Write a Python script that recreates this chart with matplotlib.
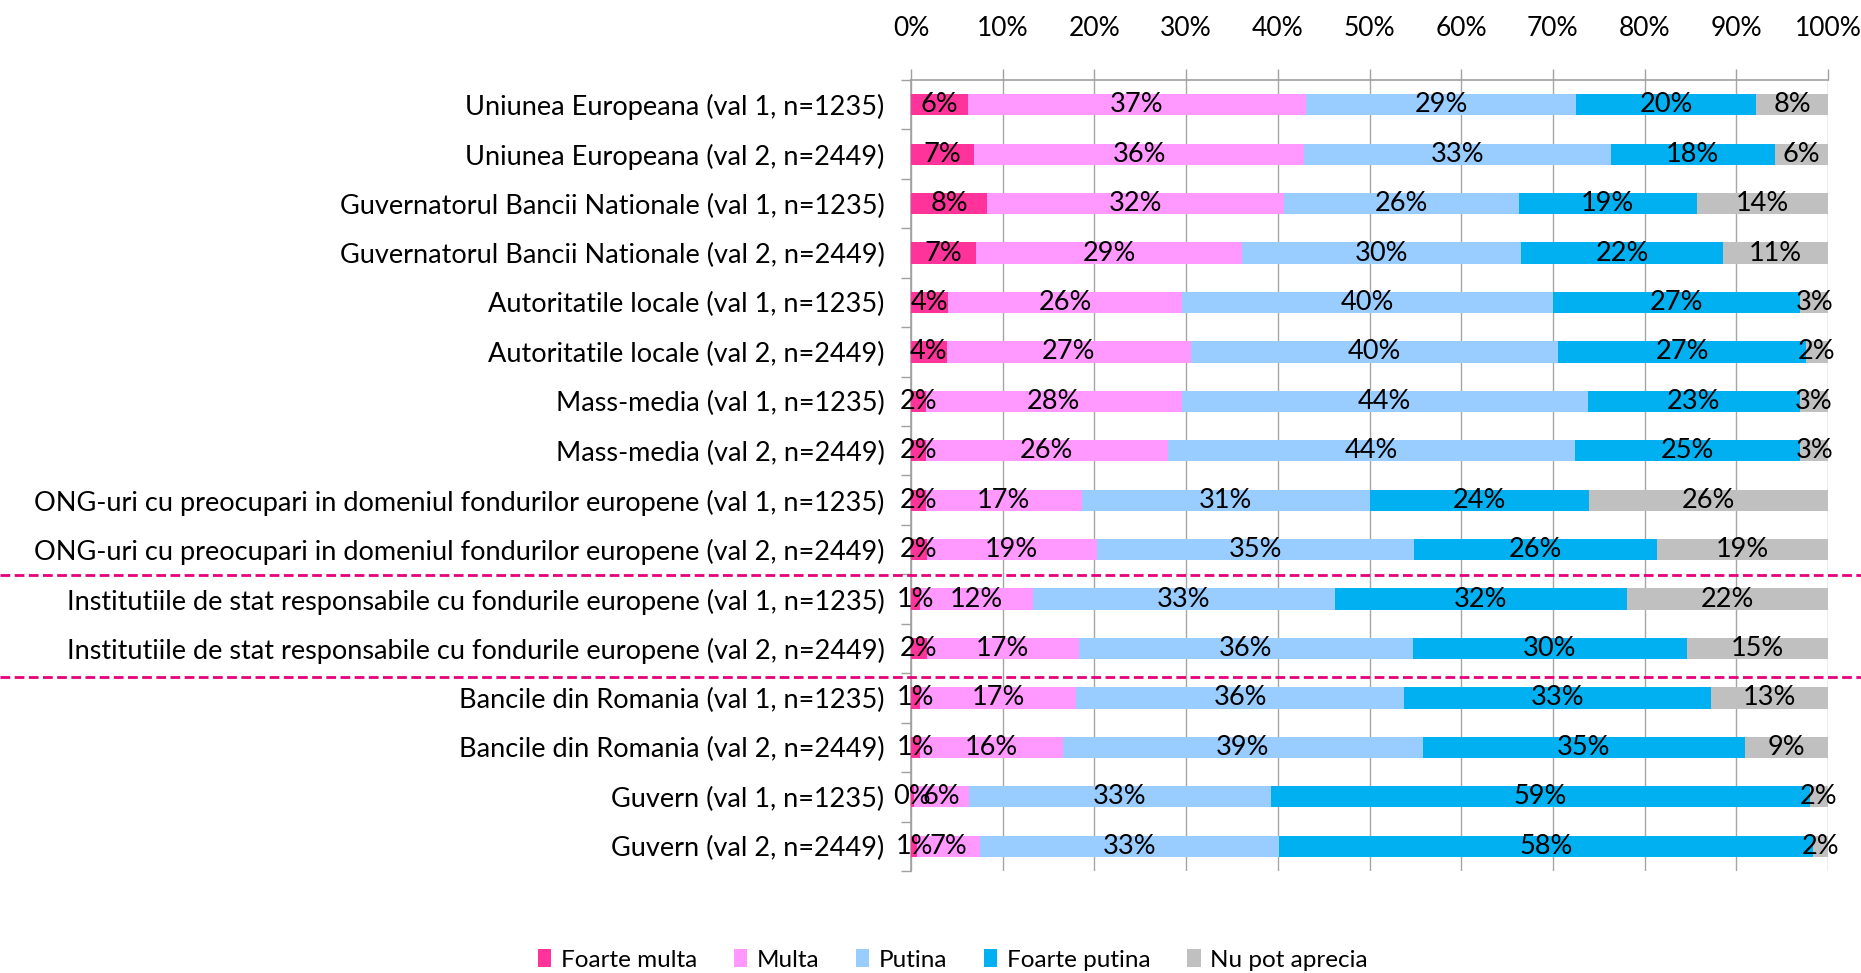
import matplotlib
matplotlib.use("Agg")
import matplotlib.pyplot as plt
from matplotlib.transforms import blended_transform_factory
import numpy as np

plt.rcParams['font.family'] = ['Lato', 'DejaVu Sans']

categories = [
    "Uniunea Europeana (val 1, n=1235)",
    "Uniunea Europeana (val 2, n=2449)",
    "Guvernatorul Bancii Nationale (val 1, n=1235)",
    "Guvernatorul Bancii Nationale (val 2, n=2449)",
    "Autoritatile locale (val 1, n=1235)",
    "Autoritatile locale (val 2, n=2449)",
    "Mass-media (val 1, n=1235)",
    "Mass-media (val 2, n=2449)",
    "ONG-uri cu preocupari in domeniul fondurilor europene (val 1, n=1235)",
    "ONG-uri cu preocupari in domeniul fondurilor europene (val 2, n=2449)",
    "Institutiile de stat responsabile cu fondurile europene (val 1, n=1235)",
    "Institutiile de stat responsabile cu fondurile europene (val 2, n=2449)",
    "Bancile din Romania (val 1, n=1235)",
    "Bancile din Romania (val 2, n=2449)",
    "Guvern (val 1, n=1235)",
    "Guvern (val 2, n=2449)",
]

series_names = ["Foarte multa", "Multa", "Putina", "Foarte putina", "Nu pot aprecia"]

foarte_multa = [6.2, 6.9, 8.3, 7.1, 4.0, 3.9, 1.6, 1.6, 1.6, 1.7, 1.0, 1.7, 1.0, 1.0, 0.3, 0.7]
multa        = [36.9, 36.0, 32.4, 29.0, 25.6, 26.6, 27.9, 26.4, 17.0, 18.6, 12.3, 16.6, 17.0, 15.6, 6.0, 6.8]
putina       = [29.4, 33.4, 25.6, 30.4, 40.4, 40.1, 44.3, 44.4, 31.4, 34.6, 32.9, 36.4, 35.8, 39.2, 33.0, 32.6]
foarte_putina= [19.7, 17.9, 19.4, 22.1, 27.0, 27.0, 23.1, 24.6, 23.9, 26.4, 31.9, 29.9, 33.4, 35.1, 58.7, 58.3]
nu_pot       = [7.8, 5.8, 14.3, 11.4, 3.0, 2.4, 3.1, 3.0, 26.1, 18.7, 21.9, 15.4, 12.8, 9.1, 2.0, 1.6]

colors = ["#FF3399", "#FF99FF", "#99CCFF", "#00B0F0", "#C0C0C0"]

x_ticks = [0, 10, 20, 30, 40, 50, 60, 70, 80, 90, 100]
x_tick_labels = [f"{t}%" for t in x_ticks]

W, H = 1861, 973
fig = plt.figure(figsize=(W / 100, H / 100), dpi=100)
ax = fig.add_axes([911 / W, 1 - 871 / H, (1828 - 911) / W, (871 - 80) / H])

FS = 19.5
y = np.arange(len(categories))
left = np.zeros(len(categories))
all_series = [foarte_multa, multa, putina, foarte_putina, nu_pot]
handles = []
for name, vals, col in zip(series_names, all_series, colors):
    vals = np.array(vals, dtype=float)
    b = ax.barh(y, vals, left=left, height=0.43, color=col, label=name, zorder=3)
    handles.append(b)
    for yi, (l, v) in enumerate(zip(left, vals)):
        ax.text(l + v / 2, yi, f"{v:.0f}%", ha="center", va="center",
                fontsize=FS, color="black", zorder=4)
    left = left + vals

ax.set_xlim(0, 100)
ax.set_ylim(len(categories) - 0.5, -0.5)

ax.xaxis.tick_top()
ax.set_xticks(x_ticks)
ax.set_xticklabels(x_tick_labels, fontsize=19)
ax.tick_params(axis="x", which="major", direction="out", length=8, width=1,
               color="#A0A0A0", pad=20)
ax.grid(axis="x", color="#A6A6A6", linewidth=1, zorder=0)

ax.set_yticks(y)
ax.set_yticklabels(categories, fontsize=FS)
ax.set_yticks(np.arange(-0.5, len(categories)), minor=True)
ax.tick_params(axis="y", which="major", length=0, pad=19)
ax.tick_params(axis="y", which="minor", direction="out", length=7, width=1,
               color="#A0A0A0")

for s in ["right", "bottom"]:
    ax.spines[s].set_visible(False)
for s in ["top", "left"]:
    ax.spines[s].set_color("#A0A0A0")
    ax.spines[s].set_linewidth(1.2)

trans = blended_transform_factory(fig.transFigure, ax.transData)
for yy in [9.52, 11.58]:
    ax.plot([0, 1], [yy, yy], transform=trans, color="#E6007E", linewidth=2,
            linestyle=(0, (3.5, 1.6)), clip_on=False, zorder=5)

fig.legend(handles=handles, labels=series_names, loc="center",
           bbox_to_anchor=(953 / W, 1 - 960 / H), ncol=5, frameon=False,
           fontsize=17.5, handlelength=0.55, handleheight=0.75,
           handletextpad=0.4, columnspacing=1.5)

fig.savefig("out.png", dpi=100)
